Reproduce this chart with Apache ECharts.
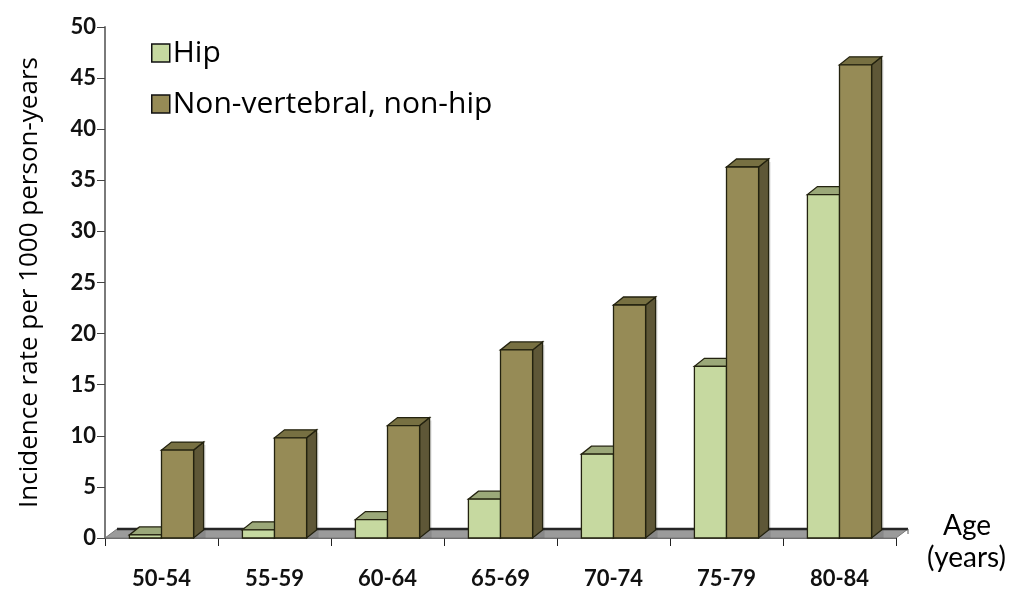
<!DOCTYPE html>
<html><head><meta charset="utf-8">
<script src="https://cdn.jsdelivr.net/npm/echarts@6/dist/echarts.min.js"></script>
<style>html,body{margin:0;padding:0;background:#fff}#c{width:1012px;height:590px}</style>
</head><body><div id="c"></div>
<script>
const categories = ['50-54','55-59','60-64','65-69','70-74','75-79','80-84'];
const hipValues = [0.3, 0.8, 1.8, 3.8, 8.2, 16.8, 33.6];
const nonVertValues = [8.6, 9.8, 11.0, 18.4, 22.8, 36.3, 46.3];
const yTicks = {min: 0, max: 50, interval: 5};

const FONT = 'Lato, "Open Sans", sans-serif';
const WFONT = '"Open Sans", Lato, sans-serif';
const DX = 10, DY = 8;

function bar3d(offsetSide, front, top, side){
  return function(params, api){
    const i = api.value(0), v = api.value(1);
    const base = api.coord([i, 0]);
    const tp = api.coord([i, v]);
    const band = api.size([1, 0])[0];
    const w = band * 0.284;
    const x0 = offsetSide < 0 ? base[0] - w : base[0];
    const x1 = x0 + w;
    const yb = base[1], yt = tp[1];
    const stroke = {stroke: '#23220f', lineWidth: 1.3};
    return {
      type: 'group',
      children: [
        {type: 'rect', shape: {x: x1 + 2, y: yt - DY + 3, width: DX, height: yb - yt + DY - 3},
         style: {fill: 'rgba(0,0,0,0.12)'}},
        {type: 'polygon', shape: {points: [[x1, yt], [x1 + DX, yt - DY], [x1 + DX, yb - DY], [x1, yb]]},
         style: Object.assign({fill: side}, stroke)},
        {type: 'polygon', shape: {points: [[x0, yt], [x1, yt], [x1 + DX, yt - DY], [x0 + DX, yt - DY]]},
         style: Object.assign({fill: top}, stroke)},
        {type: 'rect', shape: {x: x0, y: yt, width: w, height: yb - yt},
         style: Object.assign({fill: front}, stroke)}
      ]
    };
  };
}

function floor(params, api){
  const band = api.size([1, 0])[0];
  const a = api.coord([0, 0]);
  const b = api.coord([categories.length - 1, 0]);
  const lx = a[0] - band / 2, rx = b[0] + band / 2, y = a[1];
  const bx = DX + 2, by = DY + 1;
  return {
    type: 'group',
    children: [
      {type: 'polygon', shape: {points: [[lx, y], [rx, y], [rx + bx, y - by], [lx + bx, y - by]]},
       style: {fill: '#9b9b9b', stroke: '#777', lineWidth: 1}},
      {type: 'line', shape: {x1: lx + bx, y1: y - by, x2: rx + bx, y2: y - by},
       style: {stroke: '#262626', lineWidth: 2.5}},
      {type: 'line', shape: {x1: rx + bx, y1: y - by, x2: rx + bx, y2: y - by + 5},
       style: {stroke: '#555', lineWidth: 1}}
    ]
  };
}

const chart = echarts.init(document.getElementById('c'), null, {renderer: 'canvas'});
chart.setOption({
  animation: false,
  backgroundColor: '#fff',
  grid: {left: 105, right: 116, top: 27, bottom: 50},
  legend: {
    orient: 'vertical', left: 146, top: 33, itemGap: 21,
    itemWidth: 18, itemHeight: 18, icon: 'rect',
    itemStyle: {borderColor: '#111', borderWidth: 1.5},
    textStyle: {fontFamily: WFONT, fontSize: 30, color: '#000', padding: [0, 0, 0, -2]},
    data: ['Hip', 'Non-vertebral, non-hip']
  },
  xAxis: {
    type: 'category', data: categories,
    axisLine: {show: true, lineStyle: {color: '#666', width: 1}},
    axisTick: {show: true, alignWithLabel: false, length: 8, lineStyle: {color: '#222'}},
    axisLabel: {fontFamily: FONT, fontSize: 22, fontWeight: 'bold', color: '#111', margin: 30},
    splitLine: {show: false}
  },
  yAxis: {
    type: 'value', min: yTicks.min, max: yTicks.max, interval: yTicks.interval,
    name: 'Incidence rate per 1000 person-years', nameLocation: 'middle', nameRotate: 90, nameGap: 62,
    nameTextStyle: {fontFamily: WFONT, fontSize: 26, color: '#000'},
    axisLine: {show: true, lineStyle: {color: '#7a7a7a', width: 2}},
    axisTick: {show: true, length: 8, lineStyle: {color: '#444'}},
    axisLabel: {fontFamily: FONT, fontSize: 22, fontWeight: 'bold', color: '#111', margin: 9},
    splitLine: {show: false}
  },
  graphic: [
    {type: 'text', left: 943, top: 512, style: {text: 'Age', font: '28px ' + FONT, fill: '#000'}},
    {type: 'text', left: 927, top: 544, style: {text: '(years)', font: '28px ' + FONT, fill: '#000'}}
  ],
  series: [
    {type: 'custom', name: 'floor', renderItem: floor, data: [[0, 0]], silent: true, z: 1,
     encode: {x: 0, y: 1}, legendHoverLink: false},
    {type: 'custom', name: 'Hip', itemStyle: {color: '#c6d9a0'}, z: 2,
     renderItem: bar3d(-1, '#c6d9a0', '#9ba879', '#7f8c5e'),
     encode: {x: 0, y: 1},
     data: hipValues.map((v, i) => [i, v])},
    {type: 'custom', name: 'Non-vertebral, non-hip', itemStyle: {color: '#968b56'}, z: 3,
     renderItem: bar3d(1, '#968b56', '#777042', '#5e5737'),
     encode: {x: 0, y: 1},
     data: nonVertValues.map((v, i) => [i, v])}
  ]
});
</script></body></html>
